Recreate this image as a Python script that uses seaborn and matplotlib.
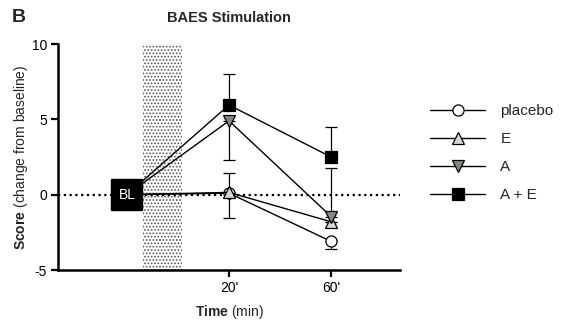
import numpy as np
import pandas as pd
import matplotlib
matplotlib.use("Agg")
import matplotlib.pyplot as plt
from matplotlib.lines import Line2D
import seaborn as sns

# ---- data ----
times = [-20, 20, 60]            # BL, 20', 60'
tick_pos = [20, 60]
tick_labels = ["20'", "60'"]
groups = ["placebo", "E", "A", "A + E"]
placebo = [0.0, 0.1, -3.1]
E = [0.0, 0.15, -1.8]
A = [0.0, 4.9, -1.45]
AE = [0.0, 5.95, 2.5]
placebo_lo = [0.0, 1.65, 0.5]
placebo_hi = [0.0, 0.0, 0.0]
E_lo = [0.0, 0.0, 0.0]
E_hi = [0.0, 1.3, 0.0]
A_lo = [0.0, 2.6, 0.0]
A_hi = [0.0, 0.0, 3.2]
AE_lo = [0.0, 0.0, 0.0]
AE_hi = [0.0, 2.05, 2.0]
stim_window = [-13.8, 1.4]
yticks = [-5, 0, 5, 10]

sns.set_theme(style="ticks")
plt.rcParams['font.family'] = ['Liberation Sans', 'DejaVu Sans']
plt.rcParams['mathtext.fontset'] = 'custom'
plt.rcParams['mathtext.rm'] = 'Liberation Sans'
plt.rcParams['mathtext.bf'] = 'Liberation Sans:bold'
plt.rcParams['axes.unicode_minus'] = False
plt.rcParams['hatch.color'] = '#555555'
plt.rcParams['hatch.linewidth'] = 0.8

fig = plt.figure(figsize=(5.62, 3.2), dpi=100)
ax = fig.add_axes([58/562, 50/320, 342/562, 226/320])

series = {"placebo": (placebo, placebo_lo, placebo_hi),
          "E": (E, E_lo, E_hi),
          "A": (A, A_lo, A_hi),
          "A + E": (AE, AE_lo, AE_hi)}
styles = {"placebo": dict(marker='o', mfc='white', ms=8),
          "E": dict(marker='^', mfc='#d4d8d4', ms=8),
          "A": dict(marker='v', mfc='#7f8b7f', ms=8),
          "A + E": dict(marker='s', mfc='black', ms=8)}

# stimulation window
ax.axvspan(stim_window[0], stim_window[1], facecolor='white', edgecolor='#555555',
           hatch='.....', lw=0, zorder=0)
# zero line
ax.axhline(0, color='black', lw=1.6, ls=(0, (1, 1.6)), zorder=1)

rows = []
for g in groups:
    vals = series[g][0]
    for t, v in zip(times, vals):
        rows.append(dict(group=g, time=t, score=v))
df = pd.DataFrame(rows)

for g in groups:
    vals, lo, hi = series[g]
    st = styles[g]
    ax.errorbar(times[1:], vals[1:], yerr=[lo[1:], hi[1:]], fmt='none',
                ecolor='black', elinewidth=0.9, capsize=4.3, capthick=0.9, zorder=2)
    sns.lineplot(data=df[df.group == g], x='time', y='score', ax=ax,
                 color='black', lw=1.0, errorbar=None, marker=st['marker'],
                 markersize=st['ms'], markerfacecolor=st['mfc'],
                 markeredgecolor='black', markeredgewidth=0.9,
                 markevery=[1, 2], zorder=3, legend=False)

# baseline marker
sns.scatterplot(x=[times[0]], y=[0.0], marker='s', s=470, color='black',
                edgecolor='black', ax=ax, zorder=5, legend=False)
ax.text(times[0], 0, "BL", color='white', fontsize=10, ha='center', va='center', zorder=6)

ax.set_xlim(-47, 87)
ax.set_ylim(-5, 10)
ax.set_xticks(tick_pos)
ax.set_xticklabels(tick_labels)
ax.set_yticks(yticks)
ax.tick_params(axis='both', direction='out', length=5, width=1.6, labelsize=10,
               colors='black', pad=3)
for side in ['top', 'right']:
    ax.spines[side].set_visible(False)
for side in ['left', 'bottom']:
    ax.spines[side].set_linewidth(1.8)
    ax.spines[side].set_color('black')
ax.set_xlabel(r"$\mathbf{Time}$ (min)", fontsize=10, labelpad=6)
ax.set_ylabel(r"$\mathbf{Score}$ (change from baseline)", fontsize=10, labelpad=1)
ax.set_title("BAES Stimulation", fontsize=10.5, fontweight='bold', pad=16)
fig.text(12/562, 1 - 17/320, "B", fontsize=14, fontweight='bold', va='center', ha='left')

handles = [Line2D([0], [0], color='black', lw=1.0, marker=styles[g]['marker'],
                  ms=styles[g]['ms'], mfc=styles[g]['mfc'], mec='black', mew=0.9)
           for g in groups]
fig.legend(handles, groups, loc='upper left', bbox_to_anchor=(430/562, 1 - 104/320),
           frameon=False, fontsize=11, handlelength=3.6, handletextpad=1.0,
           labelspacing=0.92, borderpad=0, borderaxespad=0)

ax.set_facecolor('white')
fig.savefig("out.png", dpi=100)
